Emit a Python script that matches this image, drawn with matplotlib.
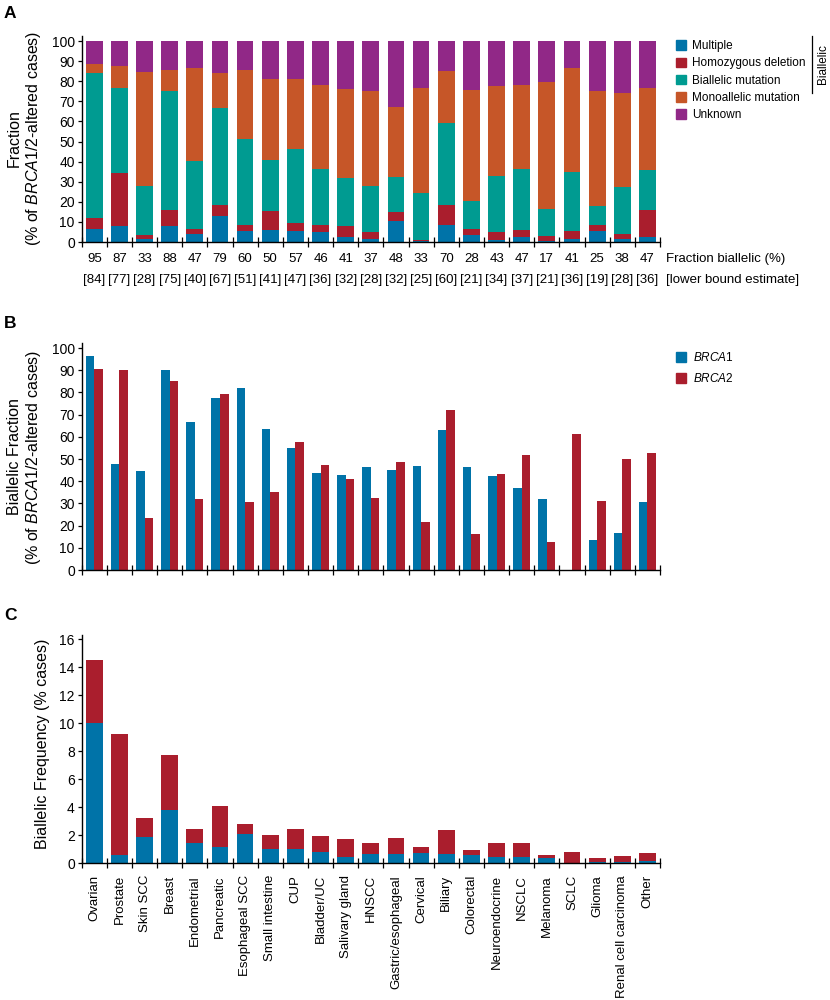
import numpy as np
import matplotlib
matplotlib.use('Agg')
import matplotlib.pyplot as plt
from matplotlib.patches import Patch
from matplotlib.lines import Line2D
from matplotlib.transforms import blended_transform_factory

plt.rcParams['font.family'] = ['Liberation Sans', 'DejaVu Sans']
plt.rcParams['mathtext.fontset'] = 'custom'
plt.rcParams['mathtext.rm'] = 'Liberation Sans'
plt.rcParams['mathtext.it'] = 'Liberation Sans:italic'

# tumour types (same order in all three panels)
cancers = ['Ovarian', 'Prostate', 'Skin SCC', 'Breast', 'Endometrial', 'Pancreatic',
           'Esophageal SCC', 'Small intestine', 'CUP', 'Bladder/UC', 'Salivary gland',
           'HNSCC', 'Gastric/esophageal', 'Cervical', 'Biliary', 'Colorectal',
           'Neuroendocrine', 'NSCLC', 'Melanoma', 'SCLC', 'Glioma',
           'Renal cell carcinoma', 'Other']

# panel A: mechanism fractions (% of BRCA1/2-altered cases)
multiple = [6.5, 7.8, 1.7, 7.9, 4.0, 13.1, 5.6, 6.1, 5.5, 5.1, 2.5, 1.7, 10.4, 0.3,
            8.5, 3.7, 1.2, 2.3, 0.7, 1.5, 5.3, 1.5, 2.7]
homdel = [5.3, 26.5, 1.9, 7.8, 2.6, 5.3, 2.8, 9.5, 4.1, 3.3, 5.3, 3.1, 4.3, 0.9,
          10.0, 2.8, 3.6, 3.9, 2.1, 4.2, 3.4, 2.3, 13.2]
biallelic_mut = [72.2, 42.2, 24.5, 59.5, 33.6, 48.5, 42.9, 25.1, 36.8, 27.7, 23.8, 23.3,
                 17.8, 23.3, 40.8, 13.9, 28.1, 30.0, 13.7, 29.2, 9.2, 23.6, 19.7]
monoallelic = [4.7, 11.2, 56.7, 10.4, 46.6, 17.2, 34.3, 40.4, 34.7, 42.0, 44.6, 47.1,
               34.7, 52.1, 25.7, 55.2, 44.7, 42.1, 63.1, 51.7, 57.1, 46.6, 41.0]
unknown = [11.3, 12.3, 15.2, 14.4, 13.2, 15.9, 14.4, 18.9, 18.9, 21.9, 23.8, 24.8,
           32.8, 23.4, 15.0, 24.4, 22.4, 21.7, 20.4, 13.4, 25.0, 26.0, 23.4]
frac_biallelic = [95, 87, 33, 88, 47, 79, 60, 50, 57, 46, 41, 37, 48, 33, 70, 28, 43,
                  47, 17, 41, 25, 38, 47]
lower_bound = [84, 77, 28, 75, 40, 67, 51, 41, 47, 36, 32, 28, 32, 25, 60, 21, 34, 37,
               21, 36, 19, 28, 36]

# panel B: biallelic fraction by gene
brca1_frac = [96.5, 47.8, 44.4, 90.1, 66.6, 77.7, 82.1, 63.5, 54.9, 43.9, 42.7, 46.2,
              45.0, 46.9, 62.9, 46.3, 42.4, 37.0, 31.9, 0.0, 13.4, 16.7, 30.8]
brca2_frac = [90.8, 90.1, 23.3, 85.1, 31.9, 79.2, 30.5, 35.2, 57.6, 47.4, 40.8, 32.5,
              48.6, 21.5, 72.0, 16.1, 43.3, 51.7, 12.5, 61.4, 31.0, 49.8, 52.8]

# panel C: biallelic frequency (% cases)
brca1_freq = [10.05, 0.57, 1.88, 3.8, 1.43, 1.14, 2.12, 1.0, 1.0, 0.81, 0.48, 0.64,
              0.67, 0.71, 0.64, 0.57, 0.43, 0.45, 0.38, 0.0, 0.1, 0.1, 0.17]
brca2_freq = [4.45, 8.63, 1.32, 3.9, 1.05, 2.98, 0.67, 1.05, 1.43, 1.12, 1.23, 0.84,
              1.14, 0.43, 1.76, 0.38, 1.0, 0.98, 0.19, 0.83, 0.3, 0.4, 0.59]

BLUE = '#0073a8'
RED = '#aa1e2d'
TEAL = '#009b91'
ORANGE = '#c65628'
PURPLE = '#912887'

n = len(cancers)
x = np.arange(n)
W, H = 830, 1000

fig = plt.figure(figsize=(8.3, 10), dpi=100)


def frame(ax, ymax, ystep):
    ax.set_xlim(-0.5, n - 0.5)
    ax.set_ylim(0, ymax)
    for s in ['top', 'right']:
        ax.spines[s].set_visible(False)
    for s in ['left', 'bottom']:
        ax.spines[s].set_linewidth(1.0)
    ax.set_yticks(np.arange(0, ymax, ystep))
    ax.set_xticks(np.arange(-0.5, n), minor=True)
    ax.tick_params(axis='x', which='minor', direction='inout', length=7, width=0.9)
    ax.tick_params(axis='x', which='major', length=0)
    ax.tick_params(axis='y', direction='out', length=3, width=0.9, labelsize=10, pad=2)


def axes_px(left, right, top, bottom):
    return fig.add_axes([left / W, 1 - bottom / H, (right - left) / W, (bottom - top) / H])


# ---- panel A
axA = axes_px(81.7, 660, 36, 242)
bw = 0.665
segs = [(multiple, BLUE, 'Multiple'), (homdel, RED, 'Homozygous deletion'),
        (biallelic_mut, TEAL, 'Biallelic mutation'), (monoallelic, ORANGE, 'Monoallelic mutation'),
        (unknown, PURPLE, 'Unknown')]
bottom = np.zeros(n)
for vals, col, lab in segs:
    axA.bar(x, vals, bw, bottom=bottom, color=col, label=lab)
    bottom += np.array(vals)
frame(axA, 102.5, 10)
axA.set_xticklabels([])

trans = blended_transform_factory(axA.transData, fig.transFigure)
for i in range(n):
    axA.text(i, 1 - 259 / H, str(frac_biallelic[i]), transform=trans, ha='center',
             va='center', fontsize=9.5)
    axA.text(i, 1 - 280 / H, '[%d]' % lower_bound[i], transform=trans, ha='center',
             va='center', fontsize=9.5)
fig.text(666 / W, 1 - 259 / H, 'Fraction biallelic (%)', ha='left', va='center', fontsize=9.5)
fig.text(666 / W, 1 - 280 / H, '[lower bound estimate]', ha='left', va='center', fontsize=9.5)

handles = [Patch(color=c, label=l) for _, c, l in segs]
fig.legend(handles=handles, loc='upper left', bbox_to_anchor=(676 / W, 1 - 40 / H),
           frameon=False, fontsize=8.5, handlelength=0.85, handleheight=0.85,
           handletextpad=0.5, labelspacing=0.45, borderpad=0, borderaxespad=0)
fig.add_artist(Line2D([811.7 / W] * 2, [1 - 36 / H, 1 - 93 / H], transform=fig.transFigure,
                      color='k', lw=0.9))
fig.text(822.5 / W, 1 - 64 / H, 'Biallelic', rotation=90, ha='center', va='center', fontsize=8.5)

fig.text(25 / W, 1 - 138.5 / H, 'Fraction\n(% of $\\it{BRCA1/2}$-altered cases)', rotation=90,
         ha='center', va='center', multialignment='center', fontsize=11.5)

# ---- panel B
axB = axes_px(81.7, 660, 343, 570)
gw = 0.34
axB.bar(x - gw / 2, brca1_frac, gw, color=BLUE, label='$\\it{BRCA1}$')
axB.bar(x + gw / 2, brca2_frac, gw, color=RED, label='$\\it{BRCA2}$')
frame(axB, 102.3, 10)
axB.set_xticklabels([])
fig.legend(handles=[Patch(color=BLUE, label='$\\it{BRCA1}$'), Patch(color=RED, label='$\\it{BRCA2}$')],
           loc='upper left', bbox_to_anchor=(676 / W, 1 - 351 / H), frameon=False, fontsize=8.5,
           handlelength=0.85, handleheight=0.85, handletextpad=0.6, labelspacing=0.7,
           borderpad=0, borderaxespad=0)
fig.text(25 / W, 1 - 457 / H, 'Biallelic Fraction\n(% of $\\it{BRCA1/2}$-altered cases)',
         rotation=90, ha='center', va='center', multialignment='center', fontsize=11.5)

# ---- panel C
axC = axes_px(81.7, 660, 635, 863.3)
axC.bar(x, brca1_freq, bw, color=BLUE)
axC.bar(x, brca2_freq, bw, bottom=brca1_freq, color=RED)
frame(axC, 16.3, 2)
axC.set_xticks(x)
axC.set_xticklabels(cancers, rotation=90, fontsize=9.5)
axC.tick_params(axis='x', which='major', pad=8.5)
fig.text(42.5 / W, 1 - 744 / H, 'Biallelic Frequency (% cases)', rotation=90, ha='center',
         va='center', fontsize=11.5)

# panel letters
for lab, yy in [('A', 14), ('B', 323), ('C', 615)]:
    fig.text(4 / W, 1 - yy / H, lab, ha='left', va='center', fontsize=12.5, fontweight='bold')

fig.savefig('out.png', dpi=100)
